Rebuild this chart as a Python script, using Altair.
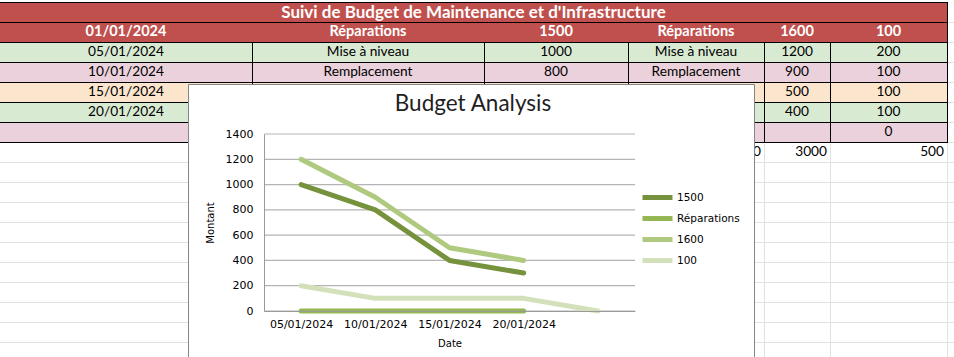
import altair as alt
import pandas as pd

# ------------------------------------------------------------------ data
SHEET_TITLE = "Suivi de Budget de Maintenance et d'Infrastructure"
HEADER = ["01/01/2024", "Réparations", "1500", "Réparations", "1600", "100"]
ROW_1 = ["05/01/2024", "Mise à niveau", "1000", "Mise à niveau", "1200", "200"]
ROW_2 = ["10/01/2024", "Remplacement", "800", "Remplacement", "900", "100"]
ROW_3 = ["15/01/2024", "", "", "", "500", "100"]   # cells hidden by the chart left blank
ROW_4 = ["20/01/2024", "", "", "", "400", "100"]
ROW_5 = ["", "", "", "", "", "0"]
TOTALS = ["", "", "", "2500", "3000", "500"]

CHART_TITLE = "Budget Analysis"
X_TITLE = "Date"
Y_TITLE = "Montant"
DATES = ["05/01/2024", "10/01/2024", "15/01/2024", "20/01/2024", ""]
SERIES = ["1500", "Réparations", "1600", "100"]
VAL_1500 = [1000, 800, 400, 300, None]
VAL_REPARATIONS = [0, 0, 0, 0, None]
VAL_1600 = [1200, 900, 500, 400, None]
VAL_100 = [200, 100, 100, 100, 0]
Y_TICKS = [0, 200, 400, 600, 800, 1000, 1200, 1400]

# ------------------------------------------------------------------ layout / style
W, H = 954, 357
COL_EDGES = [0, 252, 484, 628, 764, 830, 947]
ROW_TOP = 2
ROW_H = 20
N_GRID_ROWS = 18
FILL_RED = "#c0504d"
BODY_FILLS = ["#d9ead3", "#ead1dc", "#fce5cd", "#d9ead3", "#ead1dc"]
SHEET_GRID = "#e1e1e1"
BORDER = "#000000"
SERIES_COLORS = ["#76923c", "#94b653", "#afc97f", "#d3e1bb"]
CELL_FONT = "Lato"
CELL_SIZE = 13.7
HEADER_SIZE = 14.5
TITLE_SIZE = 17
AXIS_FONT = "DejaVu Sans"
PLOT_X = [264, 635]
PLOT_Y = [311, 134]
BOX_X = (188.5, 754.5)
BOX_Y = (84.5, H + 3)


def row_y(i):
    return ROW_TOP + ROW_H * i


# ------------------------------------------------------------------ sheet frames
h_grid = pd.DataFrame({"y": [row_y(i) + 0.5 for i in range(1, N_GRID_ROWS)]})
h_grid["x0"] = 0
h_grid["x1"] = W
v_grid = pd.DataFrame({"x": [e + 0.5 for e in COL_EDGES[1:]]})
v_grid["y0"] = row_y(0)
v_grid["y1"] = H

fill_rows = [
    dict(x0=0, x1=COL_EDGES[-1], y0=row_y(0), y1=row_y(1), fill=FILL_RED),
    dict(x0=0, x1=COL_EDGES[-1], y0=row_y(1), y1=row_y(2), fill=FILL_RED),
]
for i, f in enumerate(BODY_FILLS):
    fill_rows.append(dict(x0=0, x1=COL_EDGES[-1], y0=row_y(2 + i), y1=row_y(3 + i), fill=f))
fills = pd.DataFrame(fill_rows)

h_border = pd.DataFrame({"y": [row_y(i) + 0.5 for i in range(0, 8)]})
h_border["x0"] = 0
h_border["x1"] = COL_EDGES[-1] + 1
v_rows = [dict(x=e + 0.5, y0=row_y(2), y1=row_y(7) + 1) for e in COL_EDGES[1:-1]]
v_rows.append(dict(x=COL_EDGES[-1] + 0.5, y0=row_y(0), y1=row_y(7) + 1))
v_border = pd.DataFrame(v_rows)

title_df = pd.DataFrame([dict(x=COL_EDGES[-1] / 2, y=row_y(0) + 10.5, t=SHEET_TITLE)])
header_df = pd.DataFrame(
    [dict(x=(COL_EDGES[j] + COL_EDGES[j + 1]) / 2, y=row_y(1) + 10, t=t) for j, t in enumerate(HEADER)]
)
body_rows = []
for i, row in enumerate([ROW_1, ROW_2, ROW_3, ROW_4, ROW_5]):
    for j, t in enumerate(row):
        if t:
            body_rows.append(dict(x=(COL_EDGES[j] + COL_EDGES[j + 1]) / 2, y=row_y(2 + i) + 10, t=t))
body_df = pd.DataFrame(body_rows)
totals_df = pd.DataFrame(
    [dict(x=COL_EDGES[j + 1] - 3, y=row_y(7) + 10, t=t) for j, t in enumerate(TOTALS) if t]
)

PX = dict(scale=None, axis=None)


def hrules(df, color, width=1):
    return alt.Chart(df).mark_rule(color=color, strokeWidth=width).encode(
        x=alt.X("x0:Q", **PX), x2="x1:Q", y=alt.Y("y:Q", **PX)
    )


def vrules(df, color, width=1):
    return alt.Chart(df).mark_rule(color=color, strokeWidth=width).encode(
        x=alt.X("x:Q", **PX), y=alt.Y("y0:Q", **PX), y2="y1:Q"
    )


def texts(df, color, size, bold=False, align="center"):
    return alt.Chart(df).mark_text(
        font=CELL_FONT, fontSize=size, color=color, align=align, baseline="middle",
        fontWeight="bold" if bold else "normal",
    ).encode(x=alt.X("x:Q", **PX), y=alt.Y("y:Q", **PX), text="t:N")


sheet_layers = [
    hrules(h_grid, SHEET_GRID),
    vrules(v_grid, SHEET_GRID),
    alt.Chart(fills).mark_rect().encode(
        x=alt.X("x0:Q", **PX), x2="x1:Q", y=alt.Y("y0:Q", **PX), y2="y1:Q",
        fill=alt.Fill("fill:N", scale=None),
    ),
    hrules(h_border, BORDER),
    vrules(v_border, BORDER),
    texts(title_df, "white", TITLE_SIZE, bold=True),
    texts(header_df, "white", HEADER_SIZE, bold=True),
    texts(body_df, "black", CELL_SIZE),
    texts(totals_df, "black", CELL_SIZE, align="right"),
]

# ------------------------------------------------------------------ chart frames
values = {"1500": VAL_1500, "Réparations": VAL_REPARATIONS, "1600": VAL_1600, "100": VAL_100}
records = []
for s in SERIES:
    for k, (d, v) in enumerate(zip(DATES, values[s])):
        if v is not None:
            records.append({"date": d, "idx": k, "series": s, "value": v})
lines_df = pd.DataFrame(records)

box = alt.Chart(pd.DataFrame({"k": [0]})).mark_rect(
    fill="white", stroke="#868686", strokeWidth=1
).encode(x=alt.value(BOX_X[0]), x2=alt.value(BOX_X[1]), y=alt.value(BOX_Y[0]), y2=alt.value(BOX_Y[1]))

chart_title = alt.Chart(pd.DataFrame({"t": [CHART_TITLE]})).mark_text(
    font=CELL_FONT, fontSize=22.5, color="#1f1f1f", align="center", baseline="middle"
).encode(x=alt.value(473), y=alt.value(104), text="t:N")

yscale = alt.Scale(domain=[0, 1400], range=PLOT_Y, nice=False, zero=True)
xscale = alt.Scale(type="point", domain=DATES, range=PLOT_X, padding=0.5)

y_axis = alt.Axis(
    orient="left", offset=-PLOT_X[0], values=Y_TICKS, format="d", ticks=False, domain=True,
    domainColor="#9a9a9a", grid=False, labelFont=AXIS_FONT, labelFontSize=11,
    labelColor="black", labelPadding=11, title=Y_TITLE, titleFont=AXIS_FONT,
    titleFontSize=10, titleFontWeight="normal", titleColor="black", titleX=-54,
    titleBaseline="middle", zindex=1,
)
x_axis = alt.Axis(
    orient="bottom", offset=PLOT_Y[0] - H, ticks=False, domain=True, domainColor="#9a9a9a",
    grid=False, labelAngle=0, labelFont=AXIS_FONT, labelFontSize=11, labelColor="black",
    labelPadding=7, title=X_TITLE, titleFont=AXIS_FONT, titleFontSize=10,
    titleFontWeight="normal", titleColor="black", titleY=32, titleBaseline="middle",
    zindex=1,
)

grid = alt.Chart(pd.DataFrame({"value": Y_TICKS})).mark_rule(
    color="#b4b4b4", strokeWidth=1.2
).encode(y=alt.Y("value:Q", scale=yscale, axis=y_axis), x=alt.value(PLOT_X[0]), x2=alt.value(PLOT_X[1]))

lines = alt.Chart(lines_df).mark_line(
    strokeWidth=5, strokeCap="round", strokeJoin="round"
).encode(
    x=alt.X("date:N", scale=xscale, axis=x_axis),
    y=alt.Y("value:Q", scale=yscale, axis=y_axis),
    color=alt.Color(
        "series:N", sort=SERIES, scale=alt.Scale(domain=SERIES, range=SERIES_COLORS),
        legend=alt.Legend(
            title=None, orient="none", legendX=647.5, legendY=187.5, symbolType="M-2,0H2",
            symbolSize=225, symbolStrokeWidth=5, labelFont=AXIS_FONT, labelFontSize=10.5,
            labelColor="black", labelOffset=9.5, padding=0, rowPadding=1,
        ),
    ),
    order=alt.Order("idx:Q"),
)

chart = alt.layer(*sheet_layers, box, chart_title, grid, lines).properties(
    width=W, height=H, padding=0, autosize=alt.AutoSizeParams(type="none"), background="white"
).configure_view(stroke=None)

chart.save("out.html", embed_options={"renderer": "svg", "actions": False})
